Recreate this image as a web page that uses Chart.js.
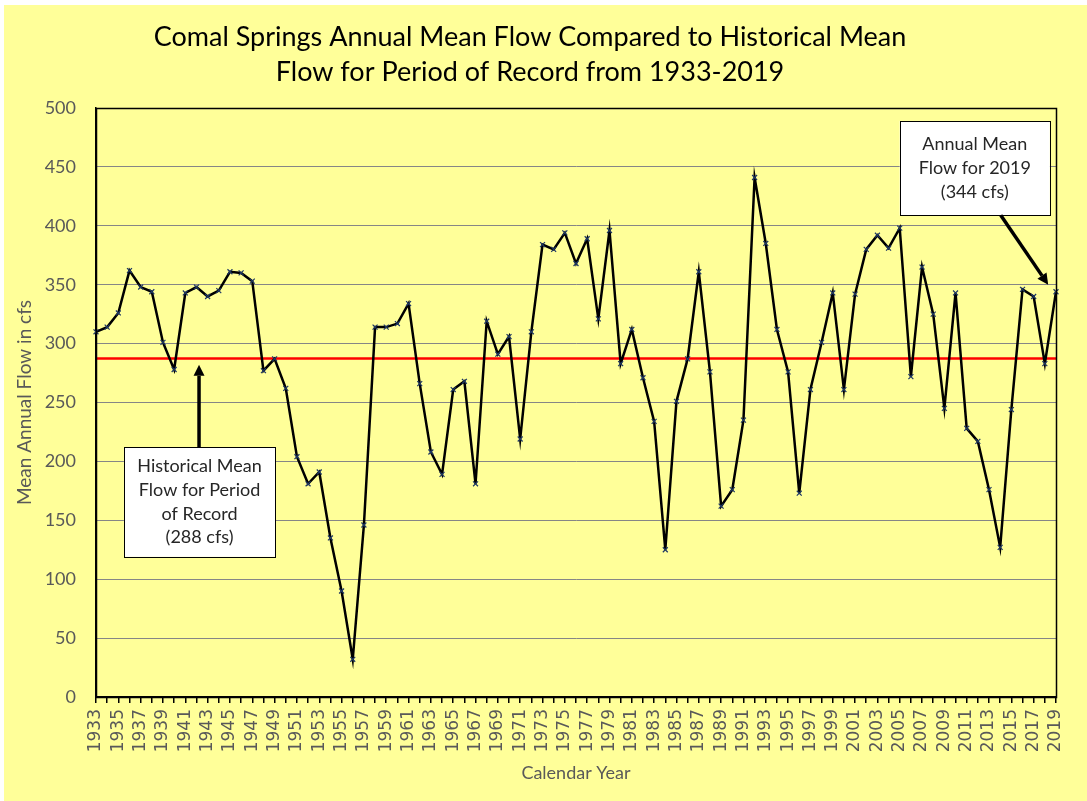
<!DOCTYPE html>
<html>
<head>
<meta charset="utf-8">
<script src="https://cdn.jsdelivr.net/npm/chart.js@4/dist/chart.umd.min.js"></script>
<style>
  html, body { margin: 0; padding: 0; background: #fff; }
  #wrap { position: relative; width: 1087px; height: 801px; }
</style>
</head>
<body>
<div id="wrap"><canvas id="flowChart" width="1087" height="801"></canvas></div>
<script>
// Comal Springs annual mean flow (cfs), 1933-2019
const years = [];
for (let y = 1933; y <= 2019; y++) years.push(String(y));

const annualFlow = [
  310, 314, 326, 362, 348, 344, 301, 278, 343, 348,   // 1933-1942
  340, 345, 361, 360, 353, 277, 287, 262, 204, 181,   // 1943-1952
  191, 135, 90, 32, 146, 314, 314, 317, 334, 266,     // 1953-1962
  208, 189, 261, 268, 181, 319, 291, 306, 219, 310,   // 1963-1972
  384, 380, 394, 368, 389, 321, 396, 283, 312, 271,   // 1973-1982
  234, 125, 251, 287, 361, 276, 162, 176, 235, 441,   // 1983-1992
  385, 312, 276, 173, 261, 301, 343, 261, 342, 380,   // 1993-2002
  392, 381, 398, 272, 365, 325, 245, 343, 228, 217,   // 2003-2012
  176, 127, 244, 346, 340, 283, 344                   // 2013-2019
];

const historicalMean = 288;
const yTicks = [0, 50, 100, 150, 200, 250, 300, 350, 400, 450, 500];

// callouts, anchored in data units (x = year index, y = cfs)
const callouts = [
  { lines: ['Historical Mean', 'Flow for Period', 'of Record', '(288 cfs)'],
    x0: 2.5, x1: 16.05, y0: 212, y1: 119,
    arrowFrom: [9.23, 212], arrowTo: [9.23, 282] },
  { lines: ['Annual Mean', 'Flow for 2019', '(344 cfs)'],
    x0: 72.0, x1: 85.45, y0: 489, y1: 409,
    arrowFrom: [81.05, 409], arrowTo: [85.3, 350] }
];

const bgPlugin = {
  id: 'bg',
  beforeDraw(chart) {
    const c = chart.ctx;
    c.save();
    c.fillStyle = '#ffffff';
    c.fillRect(0, 0, chart.width, chart.height);
    c.fillStyle = '#FFFF99';
    c.fillRect(4, 5, chart.width - 4, chart.height - 5);
    c.restore();
  }
};

function arrow(c, x1, y1, x2, y2) {
  const ang = Math.atan2(y2 - y1, x2 - x1);
  const hl = 11, hw = 5.5;
  const bx = x2 - hl * Math.cos(ang), by = y2 - hl * Math.sin(ang);
  c.beginPath();
  c.moveTo(x1, y1);
  c.lineTo(bx, by);
  c.lineWidth = 3.5;
  c.strokeStyle = '#000';
  c.stroke();
  c.beginPath();
  c.moveTo(x2, y2);
  c.lineTo(bx + hw * Math.sin(ang), by - hw * Math.cos(ang));
  c.lineTo(bx - hw * Math.sin(ang), by + hw * Math.cos(ang));
  c.closePath();
  c.fillStyle = '#000';
  c.fill();
}

const overlayPlugin = {
  id: 'overlay',
  beforeDatasetsDraw(chart) {
    const c = chart.ctx, a = chart.chartArea;
    const ys = chart.scales.y;
    const py = Math.round(ys.getPixelForValue(historicalMean)) + 0.5;
    c.save();
    c.beginPath();
    c.moveTo(a.left, py);
    c.lineTo(a.right, py);
    c.lineWidth = 2.5;
    c.strokeStyle = '#FF0000';
    c.stroke();
    c.restore();
  },
  afterDraw(chart) {
    const c = chart.ctx, a = chart.chartArea;
    const xs = chart.scales.x, ys = chart.scales.y;
    c.save();
    // frame around plot area
    c.strokeStyle = '#000';
    c.lineWidth = 1.5;
    c.strokeRect(Math.round(a.left) + 0.5, Math.round(a.top) + 0.5, Math.round(a.right - a.left), Math.round(a.bottom - a.top));
    callouts.forEach(co => {
      const l = xs.getPixelForValue(co.x0), r = xs.getPixelForValue(co.x1);
      const t = ys.getPixelForValue(co.y0), b = ys.getPixelForValue(co.y1);
      c.fillStyle = '#ffffff';
      c.fillRect(l, t, r - l, b - t);
      c.strokeStyle = '#000';
      c.lineWidth = 1;
      c.strokeRect(Math.round(l) + 0.5, Math.round(t) + 0.5, Math.round(r - l), Math.round(b - t));
      c.fillStyle = '#262626';
      c.font = '18px Lato';
      c.textAlign = 'center';
      c.textBaseline = 'middle';
      const lh = 23.7;
      const cx = (l + r) / 2, cy = (t + b) / 2;
      co.lines.forEach((s, i) => {
        c.fillText(s, cx, cy + (i - (co.lines.length - 1) / 2) * lh);
      });
      arrow(c,
        xs.getPixelForValue(co.arrowFrom[0]), ys.getPixelForValue(co.arrowFrom[1]),
        xs.getPixelForValue(co.arrowTo[0]), ys.getPixelForValue(co.arrowTo[1]));
    });
    c.restore();
  }
};

new Chart(document.getElementById('flowChart').getContext('2d'), {
  type: 'line',
  data: {
    labels: years,
    datasets: [{
      label: 'Annual Mean Flow',
      data: annualFlow,
      borderColor: '#000000',
      borderWidth: 2.5,
      tension: 0,
      pointStyle: 'crossRot',
      pointRadius: 3.5,
      pointBorderColor: '#1F3864',
      pointBorderWidth: 1.2,
      pointBackgroundColor: '#1F3864'
    }]
  },
  options: {
    responsive: false,
    animation: false,
    layout: { padding: { left: 4, top: 5, right: 31, bottom: 17 } },
    plugins: {
      legend: { display: false },
      tooltip: { enabled: false },
      title: {
        display: true,
        text: ['Comal Springs Annual Mean Flow Compared to Historical Mean', 'Flow for Period of Record from 1933-2019'],
        color: '#000000',
        font: { family: 'Lato', size: 27, weight: 'normal', lineHeight: 1.3 },
        padding: { top: 14.5, bottom: 18.3 }
      }
    },
    scales: {
      x: {
        type: 'category',
        offset: false,
        grid: { drawOnChartArea: false, drawTicks: true, tickLength: 6, color: '#000', lineWidth: 1.5 },
        border: { color: '#000', width: 1.5 },
        ticks: {
          autoSkip: false,
          maxRotation: 90,
          minRotation: 90,
          padding: 6,
          color: '#595959',
          font: { family: "'DejaVu Sans', Verdana, sans-serif", size: 17 },
          callback: function(v, i) { return i % 2 === 0 ? this.getLabelForValue(v) : ''; }
        },
        title: {
          display: true,
          text: 'Calendar Year',
          color: '#595959',
          font: { family: 'Lato', size: 18 },
          padding: { top: 4, bottom: 0 }
        },
        afterFit: s => { s.height = 87; }
      },
      y: {
        min: 0,
        max: 500,
        afterBuildTicks: s => { s.ticks = yTicks.map(v => ({ value: v })); },
        grid: { color: '#868686', lineWidth: 1, drawTicks: false },
        border: { color: '#000', width: 1.5 },
        ticks: {
          padding: 20,
          color: '#595959',
          font: { family: 'Lato', size: 18 }
        },
        title: {
          display: true,
          text: 'Mean Annual Flow in cfs',
          color: '#595959',
          font: { family: 'Lato', size: 19 },
          padding: { top: 9, bottom: 4 }
        },
        afterFit: s => { s.width = 92; }
      }
    }
  },
  plugins: [bgPlugin, overlayPlugin]
});
</script>
</body>
</html>
